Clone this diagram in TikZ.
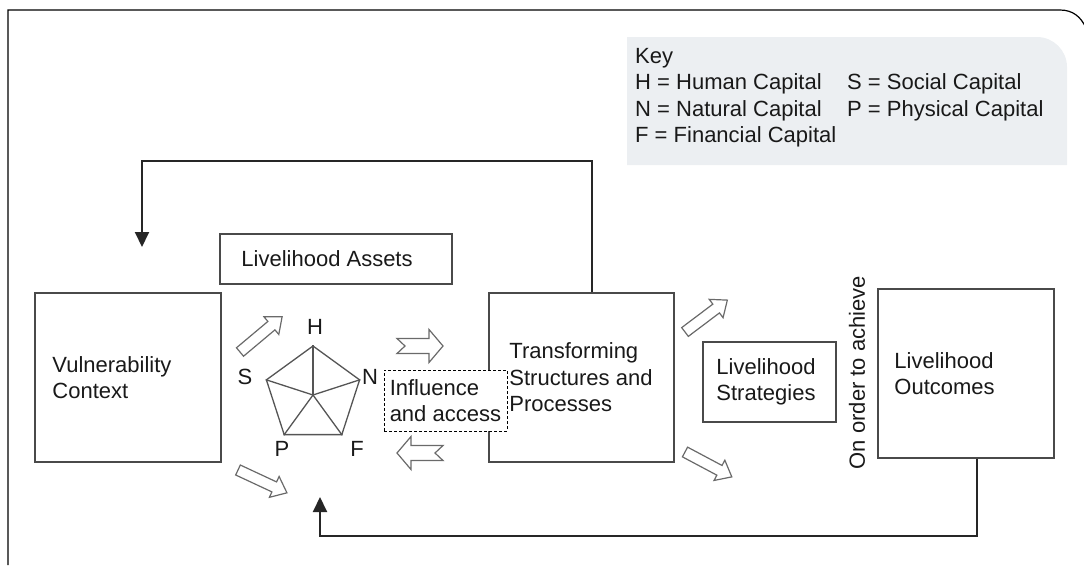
\documentclass[tikz,border=0pt]{standalone}
\usepackage{fontspec}
\setmainfont{Liberation Sans}
\usetikzlibrary{arrows.meta,shapes.geometric}
\definecolor{keygrey}{HTML}{ECEFF2}
\definecolor{boxline}{HTML}{4A4A4A}
\definecolor{penline}{HTML}{555555}
\definecolor{arrowline}{HTML}{6A6A6A}
\tikzset{
    fb/.style={line width=2pt, draw=black!85, -{Triangle[length=15pt,width=14pt]}},
    % length / shaft half width / head half width / head length / notch
    pics/hollow/.style args={#1/#2/#3/#4/#5}{code={
        \draw[arrowline, line width=1.2pt, fill=white, line join=miter]
            (0,-#2) -- ({#1-#4},-#2) -- ({#1-#4},-#3) -- (#1,0) -- ({#1-#4},#3)
            -- ({#1-#4},#2) -- (0,#2) -- (#5,0) -- cycle;
    }}
}
\begin{document}
\begin{tikzpicture}[x=1pt,y=-1pt]
    \useasboundingbox (0,0) rectangle (1084,565);

    % frame and key
    \draw[line width=1.2pt] (8,565) -- (8,10) -- (1060,10) .. controls (1073,10) and (1081,17) .. (1086,28);
    \fill[keygrey] (627,165) -- (627,37) -- (1037,37) .. controls (1053.5,37) and (1067,50.5) .. (1067,67) -- (1067,165) -- cycle;
    \node[anchor=base west, inner sep=0pt, font=\fontsize{22}{26.5}\selectfont, text=black!90] (key) at (635,63)
        {\begin{tabular}[t]{@{}p{212pt}@{}l@{}}
            Key & \\
            H = Human Capital & S = Social Capital \\
            N = Natural Capital & P = Physical Capital \\
            F = Financial Capital &
        \end{tabular}};

    \begin{scope}[every node/.style={draw=boxline, line width=1.5pt, inner sep=0pt}]
        \node[minimum width=186pt, minimum height=169pt] (vuln) at (128,377.5) {};
        \node[minimum width=232pt, minimum height=50pt] (assets) at (336,259) {};
        \node[minimum width=185pt, minimum height=169pt] (trans) at (581.5,377.5) {};
        \node[minimum width=133pt, minimum height=80pt] (strats) at (769.5,382) {};
        \node[minimum width=176pt, minimum height=169pt] (outc) at (966,373.5) {};
        \node[draw=black, line width=0.9pt, dash pattern=on 3pt off 2pt, fill=white,
              minimum width=123pt, minimum height=61pt] (influ) at (445.5,400.5) {};
    \end{scope}

    \begin{scope}[every node/.style={inner sep=0pt, align=left, anchor=west, text=black!90,
                                     font=\fontsize{22}{26.5}\selectfont}]
        \node (vulntxt) at ([xshift=18pt]vuln.west) {Vulnerability\\Context};
        \node (assetstxt) at ([xshift=22pt]assets.west) {Livelihood Assets};
        \node (transtxt) at ([xshift=21pt]trans.west) {Transforming\\Structures and\\Processes};
        \node (stratstxt) at ([xshift=14pt]strats.west) {Livelihood\\Strategies};
        \node (outctxt) at ([xshift=17pt]outc.west) {Livelihood\\Outcomes};
        \node (influtxt) at ([xshift=6pt]influ.west) {Influence\\and access};
        \node[anchor=center, rotate=90] (achieve) at (857,372.5) {On order to achieve};
    \end{scope}

    % asset pentagon
    \node[regular polygon, regular polygon sides=5, minimum size=98pt, inner sep=0pt,
          draw=penline, line width=1.3pt] (pent) at (313,395) {};
    \foreach \i in {1,...,5}
        \path (pent.center) edge[draw=penline, line width=1.3pt] (pent.corner \i);
    \begin{scope}[every node/.style={inner sep=0pt, text=black!90, font=\fontsize{22}{26.5}\selectfont}]
        \node (h) at (315,327) {H};
        \node (s) at (245,377) {S};
        \node (n) at (370,377) {N};
        \node (p) at (282,449) {P};
        \node (f) at (357,449) {F};
    \end{scope}

    % hollow arrows
    \pic[rotate=40] at (240,352) {hollow=55/5.5/11.5/14/0};
    \pic[rotate=-25] at (238,470) {hollow=54/5.5/11.5/14/0};
    \pic[rotate=37] at (685,332) {hollow=53/5.5/11.5/14/0};
    \pic[rotate=-28] at (685,452) {hollow=53/5.5/11.5/14/0};
    \pic at (397,346) {hollow=46/7.5/16.5/14/8};
    \pic[rotate=180] at (443,453) {hollow=46/7.5/16.5/14/8};

    % feedback loops
    \coordinate (topend) at (142,247);
    \coordinate (botend) at (320,497);
    \draw[fb] ([xshift=10.5pt]trans.north) -- ++(0,-131) -| (topend);
    \draw[fb] ([xshift=11pt]outc.south) -- ++(0,77) -| (botend);
\end{tikzpicture}
\end{document}
